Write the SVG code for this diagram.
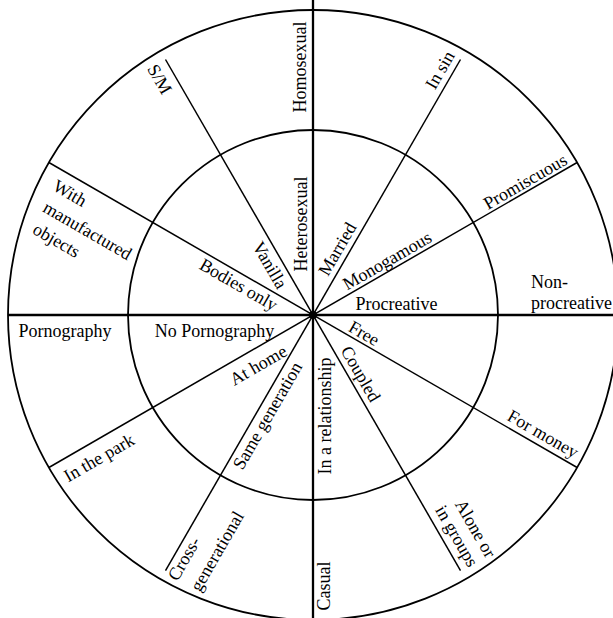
<svg xmlns="http://www.w3.org/2000/svg" width="613" height="618" viewBox="0 0 613 618">
<style>
.ring{fill:none;stroke:#000;stroke-width:1.8}
.spoke{stroke:#000;stroke-width:1.5}
.axis{stroke:#000;stroke-width:2.3}
text{font-family:"Liberation Serif","Times New Roman",serif;font-size:18px;fill:#000}
.m{text-anchor:middle}
</style>
<rect width="613" height="618" fill="#fff"/>
<g id="rings">
<circle class="ring" cx="313" cy="315" r="305"/>
<circle class="ring" cx="313" cy="315" r="185"/>
</g>
<g id="connectors">
<line class="axis" x1="313" y1="0" x2="313" y2="618"/>
<line class="axis" x1="8" y1="315" x2="613" y2="315"/>
<line class="spoke" x1="460.5" y1="59.5" x2="165.5" y2="570.5"/>
<line class="spoke" x1="577.1" y1="162.5" x2="48.9" y2="467.5"/>
<line class="spoke" x1="165.5" y1="59.5" x2="460.5" y2="570.5"/>
<line class="spoke" x1="48.9" y1="162.5" x2="577.1" y2="467.5"/>
<circle cx="313" cy="315" r="4" fill="#000"/>
</g>
<g id="homosexual"><text class="m" transform="translate(306,67) rotate(-90)">Homosexual</text></g>
<g id="heterosexual"><text class="m" transform="translate(307,224) rotate(-90)">Heterosexual</text></g>
<g id="in-a-relationship"><text class="m" transform="translate(331,416) rotate(-90)">In a relationship</text></g>
<g id="casual"><text class="m" transform="translate(330,586) rotate(-90)">Casual</text></g>
<g id="procreative"><text class="m" x="396.5" y="309.5">Procreative</text></g>
<g id="non-procreative"><text x="531" y="288">Non-</text><text x="531" y="309">procreative</text></g>
<g id="pornography"><text class="m" x="65" y="337">Pornography</text></g>
<g id="no-pornography"><text class="m" x="214.5" y="337">No Pornography</text></g>
<g id="promiscuous"><text class="m" transform="translate(528.2,186.7) rotate(-30)">Promiscuous</text></g>
<g id="monogamous"><text class="m" transform="translate(390.2,265.8) rotate(-30)">Monogamous</text></g>
<g id="at-home"><text class="m" transform="translate(261.3,370.3) rotate(-30)">At home</text></g>
<g id="in-the-park"><text class="m" transform="translate(102,462.9) rotate(-30)">In the park</text></g>
<g id="in-sin"><text class="m" transform="translate(445.2,73) rotate(-60)">In sin</text></g>
<g id="married"><text class="m" transform="translate(342.5,252) rotate(-60)">Married</text></g>
<g id="same-generation"><text class="m" transform="translate(272.6,418.7) rotate(-60)">Same generation</text></g>
<g id="cross-generational"><text transform="translate(177.4,581.9) rotate(-60)">Cross-</text><text transform="translate(200,592.7) rotate(-60)">generational</text></g>
<g id="bodies-only"><text class="m" transform="translate(235.6,289.9) rotate(30)">Bodies only</text></g>
<g id="with-manufactured-objects"><text transform="translate(51.7,189.6) rotate(30)">With</text><text transform="translate(41.7,211.1) rotate(30)">manufactured</text><text transform="translate(31.5,232.7) rotate(30)">objects</text></g>
<g id="free"><text class="m" transform="translate(361,338.5) rotate(30)">Free</text></g>
<g id="for-money"><text class="m" transform="translate(540,439.1) rotate(30)">For money</text></g>
<g id="s-m"><text class="m" transform="translate(154.4,82.2) rotate(60)">S/M</text></g>
<g id="vanilla"><text class="m" transform="translate(264.7,268.1) rotate(60)">Vanilla</text></g>
<g id="coupled"><text class="m" transform="translate(355.6,376.8) rotate(60)">Coupled</text></g>
<g id="alone-or-in-groups"><text class="m" transform="translate(470.4,531.6) rotate(60)">Alone or</text><text class="m" transform="translate(451.6,539.1) rotate(60)">in groups</text></g>
</svg>
